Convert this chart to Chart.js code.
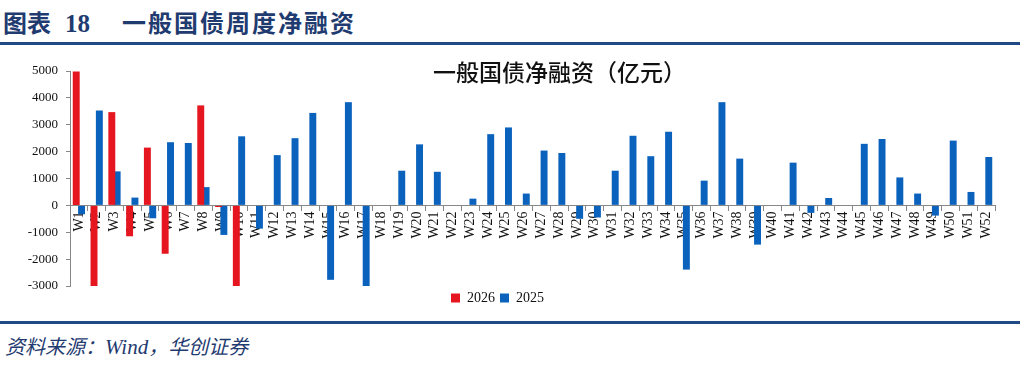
<!DOCTYPE html>
<html>
<head>
<meta charset="utf-8">
<script src="https://cdn.jsdelivr.net/npm/chart.js@4"></script>
<style>
  body { margin: 0; width: 1020px; height: 371px; background: #fff; position: relative; overflow: hidden; }
  #head { position: absolute; left: 3px; top: 4px; font-family: "Noto Sans CJK SC"; font-weight: 700; font-size: 24px; color: #1F3B70; white-space: nowrap; }
  #head .num { font-family: "Liberation Serif"; font-size: 25px; margin-left: 14px; }
  #head .t { margin-left: 32px; letter-spacing: 2px; }
  .rule { position: absolute; left: 0; width: 1020px; height: 3px; background: #1F4A86; }
  #foot { position: absolute; left: 5px; top: 331px; font-family: "Noto Sans CJK SC"; font-style: italic; font-size: 20px; color: #1F3B70; white-space: nowrap; }
  #foot .en { font-family: "Liberation Serif"; font-size: 21px; }
  #box { position: absolute; left: 0; top: 48px; width: 1020px; height: 267px; }
  #inner { position: absolute; left: 433px; top: 54px; font-family: "Noto Sans CJK SC"; font-weight: 500; font-size: 23px; color: #111; white-space: nowrap; }
</style>
</head>
<body>
<div id="head">图表<span class="num">18</span><span class="t">一般国债周度净融资</span></div>
<div class="rule" style="top:42px"></div>
<div id="box"><canvas id="c"></canvas></div>
<div id="inner">一般国债净融资（亿元）</div>
<div class="rule" style="top:321px"></div>
<div id="foot">资料来源：<span class="en">Wind</span>，华创证券</div>
<script>
// 週ラベル
const weeks = ['W1','W2','W3','W4','W5','W6','W7','W8','W9','W10',
  'W11','W12','W13','W14','W15','W16','W17','W18','W19','W20',
  'W21','W22','W23','W24','W25','W26','W27','W28','W29','W30',
  'W31','W32','W33','W34','W35','W36','W37','W38','W39','W40',
  'W41','W42','W43','W44','W45','W46','W47','W48','W49','W50',
  'W51','W52'];

// 2026年（W10まで）
const net2026 = [4980, -3000, 3470, -1150, 2150, -1800, 0, 3720, -60, -3060];

// 2025年
const net2025 = [-330, 3530, 1265, 290, -480, 2350, 2320, 680, -1100, 2570,
  -865, 1870, 2500, 3440, -2770, 3840, -3050, 0, 1290, 2270,
  1250, 0, 250, 2650, 2900, 440, 2040, 1950, -500, -450,
  1290, 2590, 1830, 2740, -2390, 920, 3840, 1740, -1460, 0,
  1590, -280, 275, 0, 2290, 2470, 1040, 440, -380, 2410,
  500, 1800];

const yTicks = [-3000, -2000, -1000, 0, 1000, 2000, 3000, 4000, 5000];

const serif = 'Liberation Serif';

new Chart(document.getElementById('c'), {
  type: 'bar',
  data: {
    labels: weeks,
    datasets: [
      { label: '2026', data: net2026, backgroundColor: '#E5161F',
        categoryPercentage: 0.6, barPercentage: 1.3 },
      { label: '2025', data: net2025, backgroundColor: '#0B62BD',
        categoryPercentage: 0.6, barPercentage: 1.3 }
    ]
  },
  options: {
    responsive: true,
    maintainAspectRatio: false,
    animation: false,
    layout: { padding: { top: 23, right: 25, left: 0, bottom: 0 } },
    plugins: {
      title: { display: false },
      tooltip: { enabled: false },
      legend: {
        position: 'bottom',
        labels: {
          boxWidth: 9, boxHeight: 9, padding: 5,
          color: '#111',
          font: { family: serif, size: 14 }
        }
      }
    },
    scales: {
      x: {
        position: { y: 0 },
        grid: { drawOnChartArea: false, drawTicks: true, tickLength: 5, color: '#888' },
        border: { color: '#888' },
        ticks: {
          autoSkip: false, minRotation: 90, maxRotation: 90, padding: 1,
          color: '#111', font: { family: serif, size: 14 }
        }
      },
      y: {
        min: -3000,
        max: 5000,
        afterBuildTicks: s => { s.ticks = yTicks.map(v => ({ value: v })); },
        afterFit: s => { s.width = 70; },
        grid: { drawOnChartArea: false, drawTicks: true, tickLength: 4, color: '#888' },
        border: { color: '#888' },
        ticks: {
          padding: 8, color: '#111', font: { family: serif, size: 13 },
          callback: v => String(v)
        }
      }
    }
  }
});
</script>
</body>
</html>
